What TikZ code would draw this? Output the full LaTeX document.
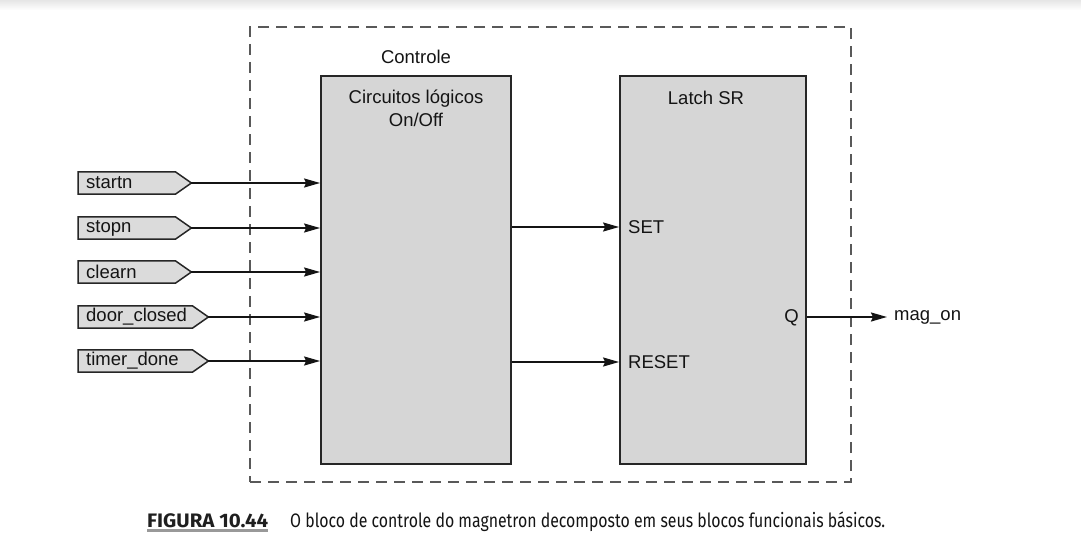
\documentclass[tikz,border=0pt]{standalone}
\usepackage{fontspec}
\setmainfont{Liberation Sans}
\newfontfamily\capfont{Fira Sans}
\usetikzlibrary{arrows.meta,calc}
\pgfdeclarelayer{background}
\pgfsetlayers{background,main}
\begin{document}
\begin{tikzpicture}[x=1pt,y=-1pt,
  lbl/.style={font=\fontsize{18.5}{23}\selectfont, text=black!92, inner sep=0pt},
  block/.style={draw=black!85, line width=1.8pt, fill=black!16, minimum width=#1, minimum height=388pt, inner sep=0pt},
  tagtext/.style={lbl, anchor=west, text width=#1, align=left, inner xsep=8pt, minimum height=22pt},
  tagshape/.style={draw=black!85, line width=1.5pt, fill=black!14, line join=miter},
  arr/.style={line width=1.9pt, draw=black!92, -{Stealth[length=16pt,width=9pt,inset=2pt]}},
  frame/.style={draw=black!65, line width=1.4pt, dash pattern=on 11pt off 7pt, minimum width=601pt, minimum height=455pt, inner sep=0pt}
]
\useasboundingbox (0,0) rectangle (1081,559);
\shade[top color=black!10, bottom color=white, draw=none] (0,0) rectangle (1081,10);

% dashed frame
\node[frame] (ctrl) at (550.5,254.5) {};
\node[lbl] (ctrllbl) at (416,57) {Controle};

% blocks
\node[block=190pt] (logic) at (416,270) {};
\node[block=186pt] (latch) at (713,270) {};
\node[lbl, align=center, anchor=north] (logiclbl) at (416,90) {Circuitos lógicos\\On/Off};
\node[lbl] (latchlbl) at (706,98) {Latch SR};

% input tags
\foreach \n/\t/\y/\w in {a/startn/183/81pt, b/stopn/228/81pt, c/clearn/272/81pt, d/door\_closed/317/98pt, e/timer\_done/361/98pt}{
  \node[tagtext=\w] (t\n) at (78,\y) {\t};
  \coordinate (tip\n) at ($(t\n.east)+(16,0)$);
}
\begin{pgfonlayer}{background}
\foreach \n in {a,b,c,d,e}{
  \path[tagshape] (t\n.north west) -- (t\n.north east) -- (tip\n) -- (t\n.south east) -- (t\n.south west) -- cycle;
}
\end{pgfonlayer}
\foreach \n in {a,b,c,d,e}{
  \draw[arr] (tip\n) -- (tip\n -| logic.west);
}

% latch inputs
\node[lbl, anchor=west] (setlbl) at (628,227) {SET};
\node[lbl, anchor=west] (resetlbl) at (628,362) {RESET};
\draw[arr] (logic.east |- setlbl) -- (latch.west |- setlbl);
\draw[arr] (logic.east |- resetlbl) -- (latch.west |- resetlbl);

% output
\node[lbl, anchor=east] (qlbl) at (799,318) {Q};
\node[lbl, anchor=west] (magon) at (894,317) {mag\_on};
\coordinate (qend) at (887,317);
\draw[arr] (latch.east |- qend) -- (qend);

% caption
\node[anchor=base west, inner sep=0pt, text=black!88] (fig) at (147,527)
  {\resizebox{121pt}{\height}{\capfont\bfseries\fontsize{19.5}{22}\selectfont FIGURA 10.44}};
\draw[draw=black!40, line width=2.5pt] ($(fig.base west)+(0,3.5)$) -- ($(fig.base east)+(0,3.5)$);
\node[anchor=base west, inner sep=0pt, text=black!92] (cap) at (290,527)
  {\resizebox{595pt}{\height}{\capfont\fontsize{19.5}{22}\selectfont O bloco de controle do magnetron decomposto em seus blocos funcionais básicos.}};
\end{tikzpicture}
\end{document}
